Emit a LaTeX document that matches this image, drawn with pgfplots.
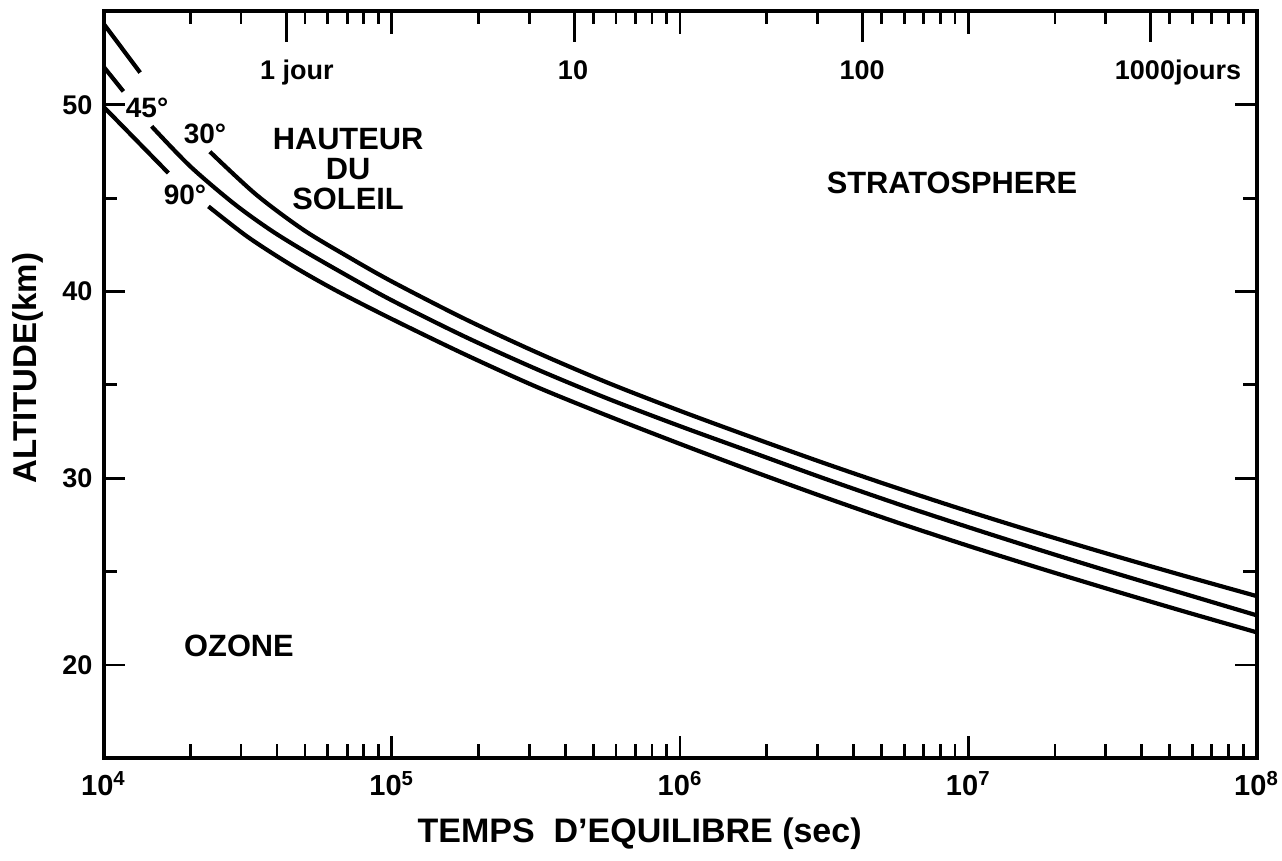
\documentclass[border=0pt]{standalone}
\usepackage{fontspec}
\setmainfont{Liberation Sans}
\usepackage{pgfplots}
\pgfplotsset{compat=1.18}
\begin{document}
\begin{tikzpicture}
\useasboundingbox (-51.75pt,-51.35pt) rectangle (589.25pt,379.15pt);
% top axis ticks (day scale)
\begin{axis}[
  at={(0,0)}, anchor=south west,
  scale only axis, width=576.5pt, height=373.4pt,
  xmode=log, xmin=1e4, xmax=1e8, ymin=15, ymax=55,
  axis line style={draw=none},
  ytick=\empty,
  xtick pos=right, tick align=inside,
  tick style={line width=1.4pt, black},
  xtick={4.3e4,4.3e5,4.3e6,4.3e7}, xticklabels={},
  major tick length=15.5pt, minor tick length=6.5pt,
  minor xtick={2e4,3e4,5e4,6e4,7e4,8e4,9e4,2e5,3e5,5e5,6e5,7e5,8e5,9e5,2e6,3e6,5e6,6e6,7e6,8e6,9e6,2e7,3e7,5e7,6e7,7e7,8e7,9e7},
  extra x ticks={1e5,1e6,1e7}, extra x tick labels={},
  extra x tick style={major tick length=11.5pt},
]
\addplot[draw=none] coordinates {(1e5,30)};
\end{axis}
\begin{axis}[
  at={(0,0)}, anchor=south west,
  scale only axis, width=576.5pt, height=373.4pt,
  xmode=log, xmin=1e4, xmax=1e8, ymin=15, ymax=55,
  axis line style={line width=2pt},
  tick style={line width=1.4pt, black},
  major tick length=11pt, minor tick length=7pt,
  xtick pos=left, ytick pos=both, tick align=inside,
  xtick={1e4,1e5,1e6,1e7,1e8},
  xticklabels={10\textsuperscript{4},10\textsuperscript{5},10\textsuperscript{6},10\textsuperscript{7},10\textsuperscript{8}},
  minor xtick={2e4,3e4,4e4,5e4,6e4,7e4,8e4,9e4,2e5,3e5,4e5,5e5,6e5,7e5,8e5,9e5,2e6,3e6,4e6,5e6,6e6,7e6,8e6,9e6,2e7,3e7,4e7,5e7,6e7,7e7,8e7,9e7},
  ytick={20,30,40,50}, yticklabels={20,30,40,50},
  minor ytick={25,35,45},
  xticklabel style={font=\bfseries\fontsize{14.5}{16}\selectfont, yshift=-3pt},
  yticklabel style={font=\bfseries\fontsize{13.5}{16}\selectfont, xshift=-2pt},
  xlabel={TEMPS\ \ D'EQUILIBRE (sec)},
  xlabel style={at={(axis description cs:0.465,-0.1014)}, anchor=center, font=\bfseries\fontsize{17}{20}\selectfont},
  ylabel={ALTITUDE(km)},
  ylabel style={at={(axis description cs:-0.0655,0.5226)}, anchor=center, font=\bfseries\fontsize{16.5}{20}\selectfont},
]
% 30 deg
\addplot[black, line width=2.1pt] coordinates {(1e4,54.35) (13397,51.73)};
\addplot[black, line width=2.1pt, smooth] coordinates {
 (23388,47.49) (33810,45.20) (49317,43.31) (70795,41.85) (1e5,40.54) (177828,38.56)
 (316228,36.76) (562341,35.11) (1e6,33.61) (1778279,32.19) (3162278,30.81)
 (5623413,29.49) (1e7,28.23) (17782794,27.03) (31622777,25.88) (56234133,24.77) (1e8,23.69)};
% 45 deg
\addplot[black, line width=2.1pt] coordinates {(1e4,52.05) (11722,50.72)};
\addplot[black, line width=2.1pt, smooth] coordinates {
 (14689,48.85) (19953,46.72) (28184,44.74) (37844,43.31) (50119,42.14) (70795,40.81)
 (1e5,39.53) (177828,37.61) (316228,35.86) (562341,34.26) (1e6,32.79) (1778279,31.39)
 (3162278,29.99) (5623413,28.65) (1e7,27.38) (17782794,26.15) (31622777,24.96)
 (56234133,23.81) (1e8,22.66)};
% 90 deg
\addplot[black, line width=2.1pt] coordinates {(1e4,49.9) (16788,46.35)};
\addplot[black, line width=2.1pt, smooth] coordinates {
 (23121,44.56) (31623,42.93) (44668,41.43) (63096,40.11) (1e5,38.53) (177828,36.66)
 (316228,34.91) (562341,33.34) (1e6,31.84) (1778279,30.39) (3162278,28.99)
 (5623413,27.65) (1e7,26.38) (17782794,25.17) (31622777,24.0) (56234133,22.86) (1e8,21.75)};
% annotations
\node[font=\bfseries\fontsize{13.5}{15}\selectfont, anchor=base] at (axis description cs:0.1678,0.9083) {1 jour};
\node[font=\bfseries\fontsize{13.5}{15}\selectfont, anchor=base] at (axis description cs:0.4072,0.9083) {10};
\node[font=\bfseries\fontsize{13.5}{15}\selectfont, anchor=base] at (axis description cs:0.6579,0.9083) {100};
\node[font=\bfseries\fontsize{13.5}{15}\selectfont, anchor=base] at (axis description cs:0.9319,0.9083) {1000jours};
\node[font=\bfseries\fontsize{14}{15}\selectfont] at (axis description cs:0.0378,0.8708) {45°};
\node[font=\bfseries\fontsize{14}{15}\selectfont] at (axis description cs:0.0880,0.8366) {30°};
\node[font=\bfseries\fontsize{14}{15}\selectfont] at (axis description cs:0.0707,0.7543) {90°};
\node[font=\bfseries\fontsize{15.4}{15}\selectfont, align=center] at (axis description cs:0.2121,0.7884) {HAUTEUR\\DU\\SOLEIL};
\node[font=\bfseries\fontsize{15.4}{15}\selectfont] at (axis description cs:0.7359,0.7708) {STRATOSPHERE};
\node[font=\bfseries\fontsize{15.4}{15}\selectfont] at (axis description cs:0.1175,0.1504) {OZONE};
\end{axis}
\end{tikzpicture}
\end{document}
